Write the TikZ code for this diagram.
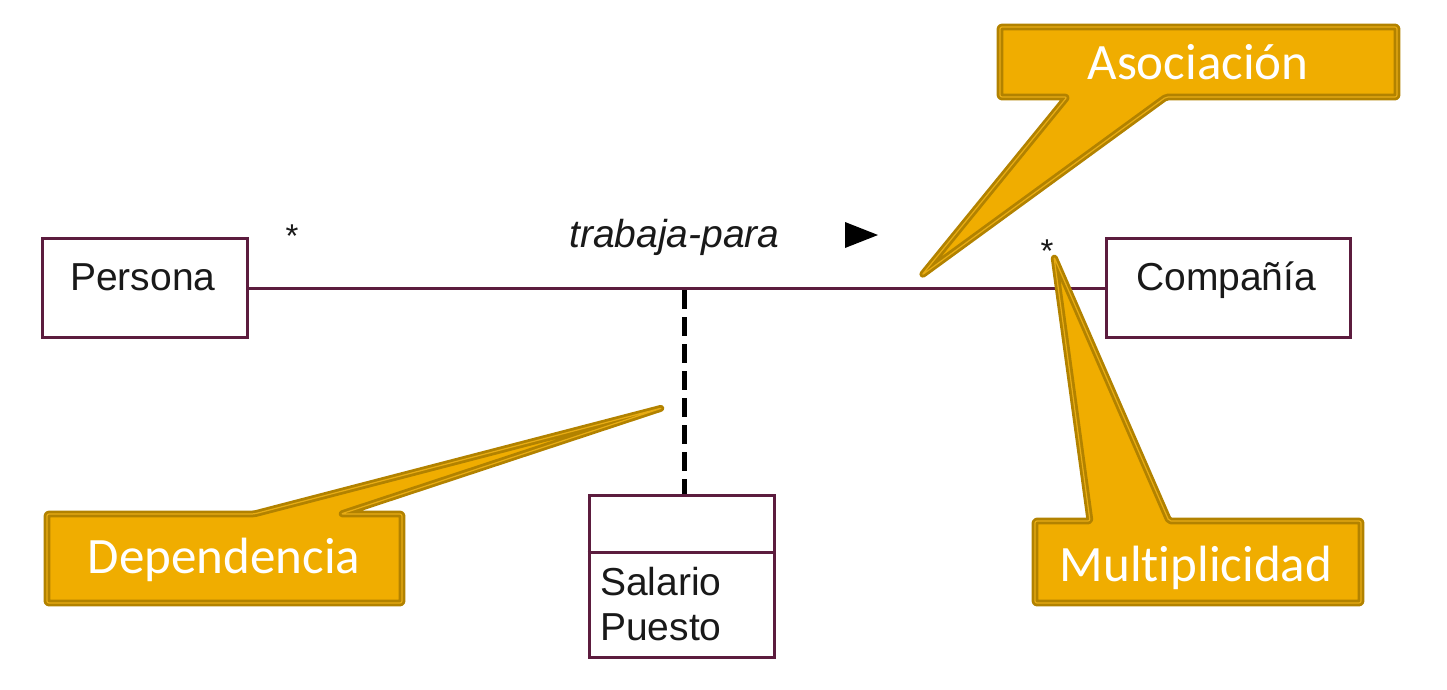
\documentclass[tikz,border=0pt]{standalone}
\usepackage{fontspec}
\setmainfont{Liberation Sans}
\newfontfamily\callfont[Ligatures=NoCommon]{Carlito}
\definecolor{umlline}{RGB}{92,28,62}
\definecolor{umltext}{RGB}{25,25,25}
\definecolor{callfill}{RGB}{240,173,0}
\definecolor{calldark}{RGB}{178,130,0}
\definecolor{calllight}{RGB}{232,172,20}
\begin{document}
\begin{tikzpicture}[x=1pt,y=-1pt,
  umlbox/.style={draw=umlline, line width=3pt, fill=white, inner sep=0pt},
  umllabel/.style={text=umltext, font=\fontsize{39}{45}\selectfont, inner sep=0pt, anchor=base west},
  multstar/.style={text=umltext, font=\fontsize{33}{36}\selectfont, inner sep=0pt, anchor=base},
  assoc/.style={draw=umlline, line width=3pt},
  depline/.style={draw=black, line width=5pt, dash pattern=on 19pt off 8pt},
  callout/.style={fill=callfill, draw=calldark, line width=2.8pt, double=calllight, double distance=1.2pt, line join=round, rounded corners=2pt},
  calltext/.style={text=white, font=\callfont\fontsize{51}{60}\selectfont, inner sep=0pt, anchor=base}]
\useasboundingbox (0,0) rectangle (1447,689);

% classes
\node[umlbox, minimum width=205, minimum height=99] (persona) at (144.5,288) {};
\node[umllabel] (personaT) at (70,290) {Persona};
\node[umlbox, minimum width=244, minimum height=99] (compania) at (1228,288) {};
\node[umllabel] (companiaT) at (1136,290) {Compañía};
\node[umlbox, minimum width=185, minimum height=162] (salario) at (681.5,576) {};
\draw[umlline, line width=3pt] (salario.west |- 0,552) -- (salario.east |- 0,552);
\node[umllabel] (salarioT) at (600,595) {Salario};
\node[umllabel] (puestoT) at (600,640) {Puesto};

% association
\draw[assoc] (persona.east) -- (compania.west);
\node[umllabel, font=\itshape\fontsize{39}{45}\selectfont] (rolT) at (569,247) {trabaja-para};
\fill[black] (845,222) -- (845,248) -- (878,235) -- cycle;
\node[multstar] (star1) at (292,247) {*};
\node[multstar] (star2) at (1047,262) {*};

% dependency
\coordinate (mid) at (684,290);
\draw[depline] (mid) -- (mid |- salario.north);

% callouts
\coordinate (asoctip) at (922,275);
\path[callout] (1000,27) -- (1397,27) -- (1397,97) -- (1166,97) -- (asoctip) -- (1067,97) -- (1000,97) -- cycle;
\node[calltext] (asoc) at (1198,79) {Asociación};

\coordinate (deptip) at (662,408);
\path[callout] (47,514) -- (254,514) -- (deptip) -- (341,514) -- (402,514) -- (402,603) -- (47,603) -- cycle;
\node[calltext] (dep) at (224,573) {Dependencia};

\coordinate (multip) at (1054,257);
\path[callout] (1035,521) -- (1090,521) -- (multip) -- (1169,521) -- (1361,521) -- (1361,603) -- (1035,603) -- cycle;
\node[calltext] (mult) at (1196,581) {Multiplicidad};
\end{tikzpicture}
\end{document}
